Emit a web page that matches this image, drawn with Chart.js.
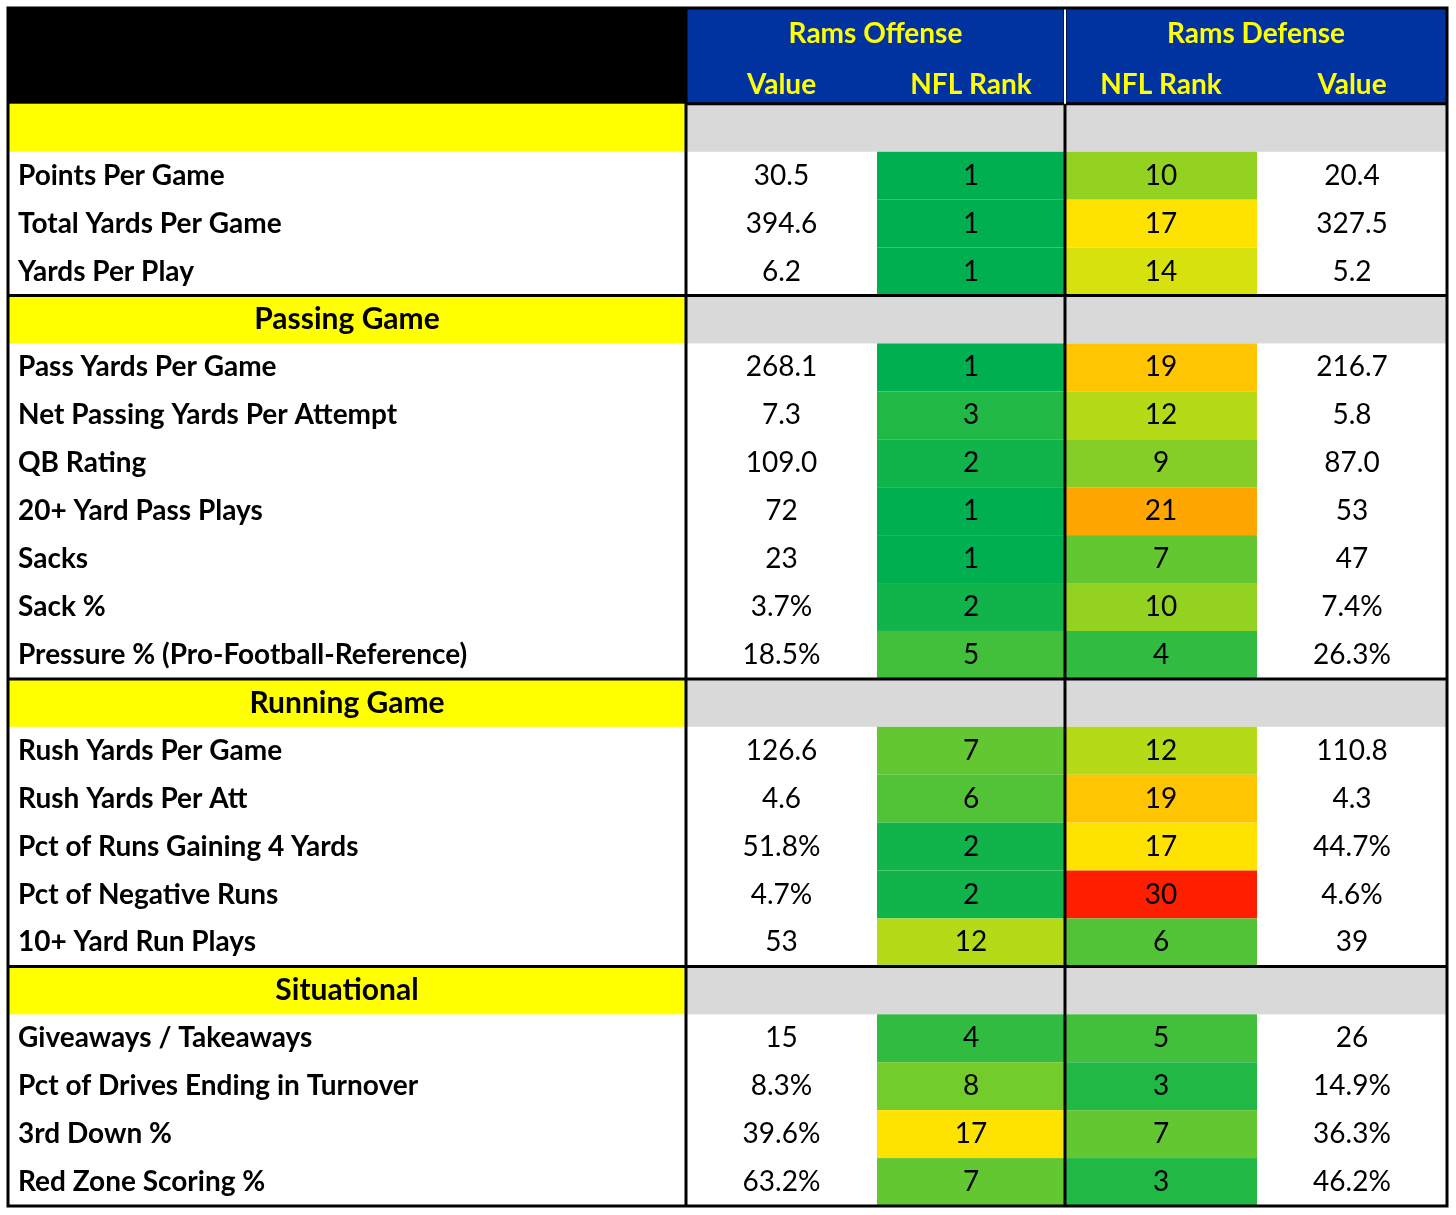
<!DOCTYPE html>
<html><head><meta charset="utf-8">
<script src="https://cdn.jsdelivr.net/npm/chart.js@4/dist/chart.umd.min.js"></script>
<style>body{margin:0;background:#fff}#wrap{width:1456px;height:1215px}</style>
</head><body><div id="wrap"><canvas id="c"></canvas></div>
<script>
// Data: row labels, offense value, offense rank, defense rank, defense value
const labels = ['', 'Points Per Game', 'Total Yards Per Game', 'Yards Per Play',
  'Passing Game', 'Pass Yards Per Game', 'Net Passing Yards Per Attempt', 'QB Rating', '20+ Yard Pass Plays', 'Sacks', 'Sack %', 'Pressure % (Pro-Football-Reference)',
  'Running Game', 'Rush Yards Per Game', 'Rush Yards Per Att', 'Pct of Runs Gaining 4 Yards', 'Pct of Negative Runs', '10+ Yard Run Plays',
  'Situational', 'Giveaways / Takeaways', 'Pct of Drives Ending in Turnover', '3rd Down %', 'Red Zone Scoring %'];
const sections = [0, 4, 12, 18];
const offValue = ['', '30.5', '394.6', '6.2', '', '268.1', '7.3', '109.0', '72', '23', '3.7%', '18.5%', '', '126.6', '4.6', '51.8%', '4.7%', '53', '', '15', '8.3%', '39.6%', '63.2%'];
const offRank = [null, 1, 1, 1, null, 1, 3, 2, 1, 1, 2, 5, null, 7, 6, 2, 2, 12, null, 4, 8, 17, 7];
const defRank = [null, 10, 17, 14, null, 19, 12, 9, 21, 7, 10, 4, null, 12, 19, 17, 30, 6, null, 5, 3, 7, 3];
const defValue = ['', '20.4', '327.5', '5.2', '', '216.7', '5.8', '87.0', '53', '47', '7.4%', '26.3%', '', '110.8', '4.3', '44.7%', '4.6%', '39', '', '26', '14.9%', '36.3%', '46.2%'];
const colEdges = [0, 678, 869, 1057, 1249, 1439];

function rankColor(r) {
  const lo = [0, 176, 80], mid = [255, 235, 0], hi = [255, 0, 0];
  let a, b, t;
  if (r <= 16.5) { a = lo; b = mid; t = (r - 1) / 15.5; } else { a = mid; b = hi; t = (r - 16.5) / 15.5; }
  t = Math.max(0, Math.min(1, t));
  return 'rgb(' + a.map((v, i) => Math.round(v + (b[i] - v) * t)).join(',') + ')';
}

const tablePlugin = {
  id: 'table',
  afterDraw(chart) {
    const ctx = chart.ctx, xs = chart.scales.x, ys = chart.scales.y;
    const X = v => xs.getPixelForValue(v), Y = v => ys.getPixelForValue(v);
    const cell = (c0, c1, r0, r1, fill) => { ctx.fillStyle = fill; ctx.fillRect(X(c0), Y(r0), X(c1) - X(c0), Y(r1) - Y(r0)); };
    const text = (s, x, y, font, color, align) => { ctx.font = font; ctx.fillStyle = color; ctx.textAlign = align; ctx.textBaseline = 'middle'; ctx.fillText(s, x, y); };
    const bold = '700 28px Lato', reg = '400 28px Lato';
    // header
    cell(colEdges[0], colEdges[1], 0, 2, '#000');
    cell(colEdges[1], colEdges[5], 0, 2, '#0033a0');
    const yel = '#ffff00';
    text('Rams Offense', (X(colEdges[1]) + X(colEdges[3])) / 2, Y(0.55), bold, yel, 'center');
    text('Rams Defense', (X(colEdges[3]) + X(colEdges[5])) / 2, Y(0.55), bold, yel, 'center');
    ['Value', 'NFL Rank', 'NFL Rank', 'Value'].forEach((s, i) => text(s, (X(colEdges[i + 1]) + X(colEdges[i + 2])) / 2, Y(1.6), bold, yel, 'center'));
    labels.forEach((lab, i) => {
      const r = i + 2, ym = Y(r + 0.5);
      if (sections.includes(i)) {
        cell(colEdges[0], colEdges[1], r, r + 1, yel);
        cell(colEdges[1], colEdges[5], r, r + 1, '#d9d9d9');
        text(lab, (X(colEdges[0]) + X(colEdges[1])) / 2, ym, '700 30px Lato', '#000', 'center');
        return;
      }
      cell(colEdges[2], colEdges[3], r, r + 1, rankColor(offRank[i]));
      cell(colEdges[3], colEdges[4], r, r + 1, rankColor(defRank[i]));
      text(lab, X(colEdges[0]) + 10, ym, bold, '#000', 'left');
      const cx = k => (X(colEdges[k]) + X(colEdges[k + 1])) / 2;
      text(offValue[i], cx(1), ym, reg, '#000', 'center');
      text(String(offRank[i]), cx(2), ym, reg, '#000', 'center');
      text(String(defRank[i]), cx(3), ym, reg, '#000', 'center');
      text(defValue[i], cx(4), ym, reg, '#000', 'center');
    });
    // borders
    ctx.strokeStyle = '#000'; ctx.lineWidth = 3;
    ctx.beginPath();
    [1, 3].forEach(k => { ctx.moveTo(X(colEdges[k]), Y(0)); ctx.lineTo(X(colEdges[k]), Y(25)); });
    sections.slice(1).forEach(s => { ctx.moveTo(X(0), Y(s + 2)); ctx.lineTo(X(colEdges[5]), Y(s + 2)); });
    ctx.moveTo(X(colEdges[1]), Y(2)); ctx.lineTo(X(colEdges[5]), Y(2));
    ctx.stroke();
    ctx.strokeStyle = '#fff'; ctx.lineWidth = 2;
    ctx.beginPath(); ctx.moveTo(X(colEdges[3]), Y(0)); ctx.lineTo(X(colEdges[3]), Y(2)); ctx.stroke();
    ctx.strokeStyle = '#000'; ctx.lineWidth = 3;
    ctx.strokeRect(X(0), Y(0), X(colEdges[5]) - X(0), Y(25) - Y(0));
  }
};

new Chart(document.getElementById('c'), {
  type: 'scatter',
  data: { datasets: [{ data: [] }] },
  options: {
    responsive: true, maintainAspectRatio: false, animation: false,
    layout: { padding: { left: 8, right: 9, top: 8, bottom: 9 } },
    plugins: { legend: { display: false }, tooltip: { enabled: false } },
    scales: {
      x: { type: 'linear', min: 0, max: 1439, display: false },
      y: { type: 'linear', min: 0, max: 25, reverse: true, display: false }
    }
  },
  plugins: [tablePlugin]
});
</script></body></html>
